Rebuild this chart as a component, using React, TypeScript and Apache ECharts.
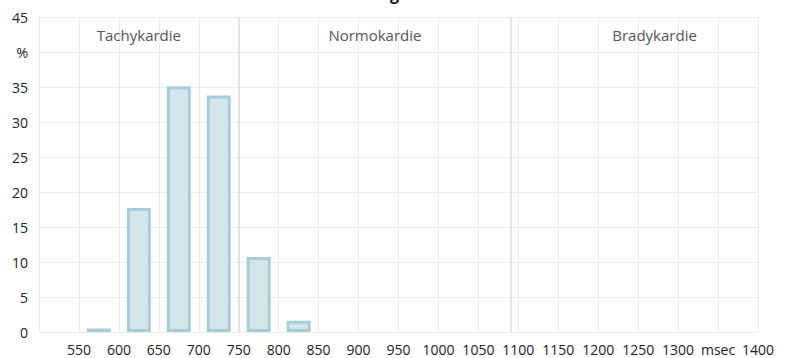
import React, { useEffect, useRef } from "react";
import * as echarts from "echarts";

const binCenters = [575, 625, 675, 725, 775, 825];
const percentages = [0.5, 17.7, 35.1, 33.8, 10.7, 1.6];
const zoneBounds = [500, 750, 1091, 1400];
const zoneNames = ["Tachykardie", "Normokardie", "Bradykardie"];
const dividers = [750, 1091];
const xUnitLabel = "msec";
const yUnitLabel = "%";

const FONT = "'Open Sans', 'Noto Sans', sans-serif";

export default function App() {
  const ref = useRef<HTMLDivElement>(null);
  useEffect(() => {
    document.body.style.margin = "0";
    const chart = echarts.init(ref.current!, null, { renderer: "svg" });
    const option = {
      animation: false,
      title: {
        text: "Histogramm",
        left: 343,
        top: -19,
        textStyle: { fontSize: 16, fontWeight: "bold", color: "#111", fontFamily: FONT },
      },
      grid: { left: 39, right: 31, top: 17, bottom: 26 },
      xAxis: {
        type: "value",
        min: 500,
        max: 1400,
        interval: 50,
        axisLine: { show: false },
        axisTick: { show: false },
        axisLabel: {
          margin: 10,
          fontSize: 14,
          color: "#222",
          fontFamily: FONT,
          formatter: (v: number) => (v === 500 ? "" : v === 1350 ? xUnitLabel : String(v)),
        },
        splitLine: { show: true, lineStyle: { color: "#ececec", width: 1 } },
      },
      yAxis: {
        type: "value",
        min: 0,
        max: 45,
        interval: 5,
        axisLine: { show: false },
        axisTick: { show: false },
        axisLabel: {
          margin: 11,
          fontSize: 14,
          color: "#222",
          fontFamily: FONT,
          formatter: (v: number) => (v === 40 ? yUnitLabel : String(v)),
        },
        splitLine: { show: true, lineStyle: { color: "#ececec", width: 1 } },
      },
      series: [
        {
          type: "bar",
          data: binCenters.map((x, i) => [x, percentages[i]]),
          barWidth: 24,
          itemStyle: { color: "#d4e5eb", borderColor: "#a8cdd4", borderWidth: 3 },
          markLine: {
            silent: true,
            symbol: ["none", "none"],
            label: { show: false },
            lineStyle: { color: "#dcdcdc", width: 1.5, type: "solid" },
            data: dividers.map((d) => ({ xAxis: d })),
          },
          markArea: {
            silent: true,
            itemStyle: { color: "rgba(0,0,0,0)" },
            label: {
              show: true,
              position: "insideTop",
              distance: 10,
              fontSize: 15,
              color: "#555",
              fontFamily: FONT,
            },
            data: zoneNames.map((n, i) => [
              {
                name: n,
                xAxis: zoneBounds[i],
                label: i === 2 ? { offset: [20, 0] } : undefined,
              },
              { xAxis: zoneBounds[i + 1] },
            ]),
          },
        },
      ],
    };
    chart.setOption(option);
    return () => chart.dispose();
  }, []);
  return <div ref={ref} style={{ width: 789, height: 358 }} />;
}
